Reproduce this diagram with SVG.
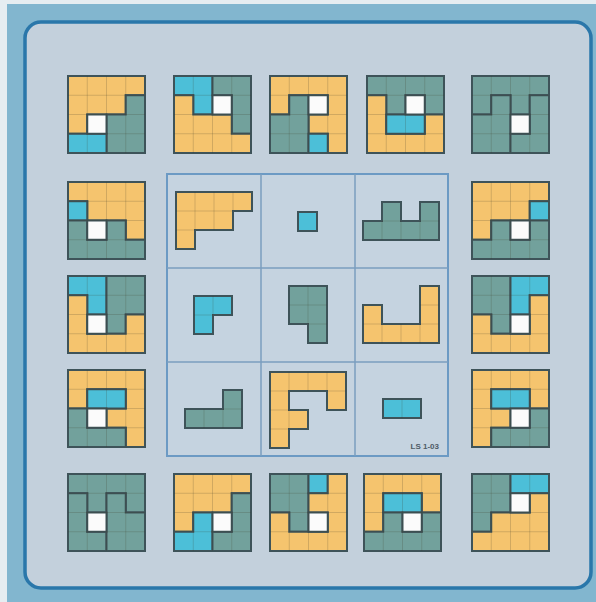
<svg xmlns="http://www.w3.org/2000/svg" xmlns:xlink="http://www.w3.org/1999/xlink" width="596" height="602" viewBox="0 0 596 602">
<style>
.p{stroke:#3e5359;stroke-width:2;vector-effect:non-scaling-stroke;stroke-linejoin:miter}
.o{fill:#f5c46e}
.c{fill:#4cbfd8}
.t{fill:#72a19c}
.w{fill:#fbfbfb}
.g{fill:none;stroke:#3c3c28;stroke-opacity:0.2;stroke-width:1;vector-effect:non-scaling-stroke}
.il{fill:none;stroke:#7b9ebf;stroke-width:1.5}
</style>
<defs>
<path id="g4" class="g" d="M1,0V4M2,0V4M3,0V4M0,1H4M0,2H4M0,3H4"/>
</defs>
<rect x="0" y="0" width="596" height="602" fill="#82b6cf"/>
<rect x="0" y="0" width="7" height="602" fill="#e6edf1"/>
<rect x="0" y="0" width="596" height="4" fill="#e6edf1"/>
<rect x="25" y="22" width="566" height="566" rx="16" fill="#c3d0dc" stroke="#2a77aa" stroke-width="3.5"/>

<g id="center-panel">
<rect x="167" y="174" width="281" height="282" fill="#c5d3e0" stroke="#6c9ac4" stroke-width="2"/>
<path class="il" d="M261,174V456M355,174V456M167,268H448M167,362H448"/>
<text x="439" y="449" font-family="Liberation Sans, Arial, sans-serif" font-size="8" font-weight="bold" fill="#4e5b66" text-anchor="end">LS 1-03</text>
</g>

<!-- center pieces -->
<g id="piece-A" transform="translate(176,192) scale(19)">
<path class="p o" d="M0,0H4V1H3V2H1V3H0Z"/>
<path class="g" d="M1,0V2M2,0V2M3,0V1M0,1H3M0,2H1"/>
</g>
<g id="piece-B" transform="translate(298,212) scale(19)">
<rect class="p c" x="0" y="0" width="1" height="1"/>
</g>
<g id="piece-C" transform="translate(363,202) scale(19)">
<path class="p t" d="M0,1H1V0H2V1H3V0H4V2H0Z"/>
<path class="g" d="M1,1V2M2,1V2M3,1V2M1,1H2M3,1H4"/>
</g>
<g id="piece-D" transform="translate(194,296) scale(19)">
<path class="p c" d="M0,0H2V1H1V2H0Z"/>
<path class="g" d="M1,0V1M0,1H1"/>
</g>
<g id="piece-E" transform="translate(289,286) scale(19)">
<path class="p t" d="M0,0H2V3H1V2H0Z"/>
<path class="g" d="M1,0V2M0,1H2M1,2H2"/>
</g>
<g id="piece-F" transform="translate(363,286) scale(19)">
<path class="p o" d="M3,0H4V3H0V1H1V2H3Z"/>
<path class="g" d="M3,1H4M0,2H1M3,2H4M1,2V3M2,2V3M3,2V3"/>
</g>
<g id="piece-G" transform="translate(185,390) scale(19)">
<path class="p t" d="M2,0H3V2H0V1H2Z"/>
<path class="g" d="M2,1H3M1,1V2M2,1V2"/>
</g>
<g id="piece-H" transform="translate(270,372) scale(19)">
<path class="p o" d="M0,0H4V2H3V1H1V2H2V3H1V4H0Z"/>
<path class="g" d="M1,0V1M2,0V1M3,0V1M0,1H1M3,1H4M0,2H1M1,2V3M0,3H1"/>
</g>
<g id="piece-I" transform="translate(383,399) scale(19)">
<rect class="p c" x="0" y="0" width="2" height="1"/>
<path class="g" d="M1,0V1"/>
</g>

<!-- top row -->
<g id="tile-top-1" transform="translate(68,76) scale(19.25)">
<path class="p o" d="M0,0H4V1H3V2H1V3H0Z"/>
<path class="p t" d="M3,1H4V4H2V2H3Z"/>
<path class="p c" d="M0,3H2V4H0Z"/>
<rect class="p w" x="1" y="2" width="1" height="1"/>
<use href="#g4"/>
</g>
<g id="tile-top-2" transform="translate(174,76) scale(19.25)">
<path class="p c" d="M0,0H2V2H1V1H0Z"/>
<path class="p t" d="M2,0H4V3H3V1H2Z"/>
<path class="p o" d="M0,1H1V2H3V3H4V4H0Z"/>
<rect class="p w" x="2" y="1" width="1" height="1"/>
<use href="#g4"/>
</g>
<g id="tile-top-3" transform="translate(270,76) scale(19.25)">
<path class="p o" d="M0,0H4V4H3V3H2V2H3V1H1V2H0Z"/>
<path class="p t" d="M1,1H2V4H0V2H1Z"/>
<rect class="p c" x="2" y="3" width="1" height="1"/>
<rect class="p w" x="2" y="1" width="1" height="1"/>
<use href="#g4"/>
</g>
<g id="tile-top-4" transform="translate(367,76) scale(19.25)">
<path class="p t" d="M0,0H4V2H3V1H2V2H1V1H0Z"/>
<path class="p o" d="M0,1H1V3H3V2H4V4H0Z"/>
<path class="p c" d="M1,2H3V3H1Z"/>
<rect class="p w" x="2" y="1" width="1" height="1"/>
<use href="#g4"/>
</g>
<g id="tile-top-5" transform="translate(472,76) scale(19.25)">
<path class="p t" d="M0,0H4V1H3V2H2V1H1V2H0Z"/>
<path class="p t" d="M1,1H2V4H0V2H1Z"/>
<path class="p t" d="M3,1H4V4H2V3H3Z"/>
<rect class="p w" x="2" y="2" width="1" height="1"/>
<use href="#g4"/>
</g>

<!-- left column -->
<g id="tile-left-1" transform="translate(68,182) scale(19.25)">
<path class="p o" d="M0,0H4V3H3V2H1V1H0Z"/>
<rect class="p c" x="0" y="1" width="1" height="1"/>
<path class="p t" d="M0,2H1V3H2V2H3V3H4V4H0Z"/>
<rect class="p w" x="1" y="2" width="1" height="1"/>
<use href="#g4"/>
</g>
<g id="tile-left-2" transform="translate(68,276) scale(19.25)">
<path class="p c" d="M0,0H2V2H1V1H0Z"/>
<path class="p t" d="M2,0H4V2H3V3H2Z"/>
<path class="p o" d="M0,1H1V3H3V2H4V4H0Z"/>
<rect class="p w" x="1" y="2" width="1" height="1"/>
<use href="#g4"/>
</g>
<g id="tile-left-3" transform="translate(68,370) scale(19.25)">
<path class="p o" d="M0,0H4V4H3V3H2V2H3V1H1V2H0Z"/>
<path class="p c" d="M1,1H3V2H1Z"/>
<path class="p t" d="M0,2H1V3H3V4H0Z"/>
<rect class="p w" x="1" y="2" width="1" height="1"/>
<use href="#g4"/>
</g>

<!-- right column -->
<g id="tile-right-1" transform="translate(472,182) scale(19.25)">
<path class="p o" d="M0,0H4V1H3V2H1V3H0Z"/>
<rect class="p c" x="3" y="1" width="1" height="1"/>
<path class="p t" d="M1,2H2V3H3V2H4V4H0V3H1Z"/>
<rect class="p w" x="2" y="2" width="1" height="1"/>
<use href="#g4"/>
</g>
<g id="tile-right-2" transform="translate(472,276) scale(19.25)">
<path class="p t" d="M0,0H2V3H1V2H0Z"/>
<path class="p c" d="M2,0H4V1H3V2H2Z"/>
<path class="p o" d="M3,1H4V4H0V2H1V3H3Z"/>
<rect class="p w" x="2" y="2" width="1" height="1"/>
<use href="#g4"/>
</g>
<g id="tile-right-3" transform="translate(472,370) scale(19.25)">
<path class="p o" d="M0,0H4V2H3V1H1V2H2V3H1V4H0Z"/>
<path class="p c" d="M1,1H3V2H1Z"/>
<path class="p t" d="M3,2H4V4H1V3H3Z"/>
<rect class="p w" x="2" y="2" width="1" height="1"/>
<use href="#g4"/>
</g>

<!-- bottom row -->
<g id="tile-bottom-1" transform="translate(68,474) scale(19.25)">
<path class="p t" d="M0,0H4V2H3V1H2V2H1V1H0Z"/>
<path class="p t" d="M0,1H1V3H2V4H0Z"/>
<path class="p t" d="M2,1H3V2H4V4H2Z"/>
<rect class="p w" x="1" y="2" width="1" height="1"/>
<use href="#g4"/>
</g>
<g id="tile-bottom-2" transform="translate(174,474) scale(19.25)">
<path class="p o" d="M0,0H4V1H3V2H1V3H0Z"/>
<path class="p c" d="M1,2H2V4H0V3H1Z"/>
<path class="p t" d="M3,1H4V4H2V3H3Z"/>
<rect class="p w" x="2" y="2" width="1" height="1"/>
<use href="#g4"/>
</g>
<g id="tile-bottom-3" transform="translate(270,474) scale(19.25)">
<path class="p t" d="M0,0H2V3H1V2H0Z"/>
<rect class="p c" x="2" y="0" width="1" height="1"/>
<path class="p o" d="M3,0H4V4H0V2H1V3H3V2H2V1H3Z"/>
<rect class="p w" x="2" y="2" width="1" height="1"/>
<use href="#g4"/>
</g>
<g id="tile-bottom-4" transform="translate(364,474) scale(19.25)">
<path class="p o" d="M0,0H4V2H3V1H1V3H0Z"/>
<path class="p c" d="M1,1H3V2H1Z"/>
<path class="p t" d="M1,2H2V3H3V2H4V4H0V3H1Z"/>
<rect class="p w" x="2" y="2" width="1" height="1"/>
<use href="#g4"/>
</g>
<g id="tile-bottom-5" transform="translate(472,474) scale(19.25)">
<path class="p t" d="M0,0H2V2H1V3H0Z"/>
<path class="p c" d="M2,0H4V1H2Z"/>
<path class="p o" d="M3,1H4V4H0V3H1V2H3Z"/>
<rect class="p w" x="2" y="1" width="1" height="1"/>
<use href="#g4"/>
</g>
</svg>
